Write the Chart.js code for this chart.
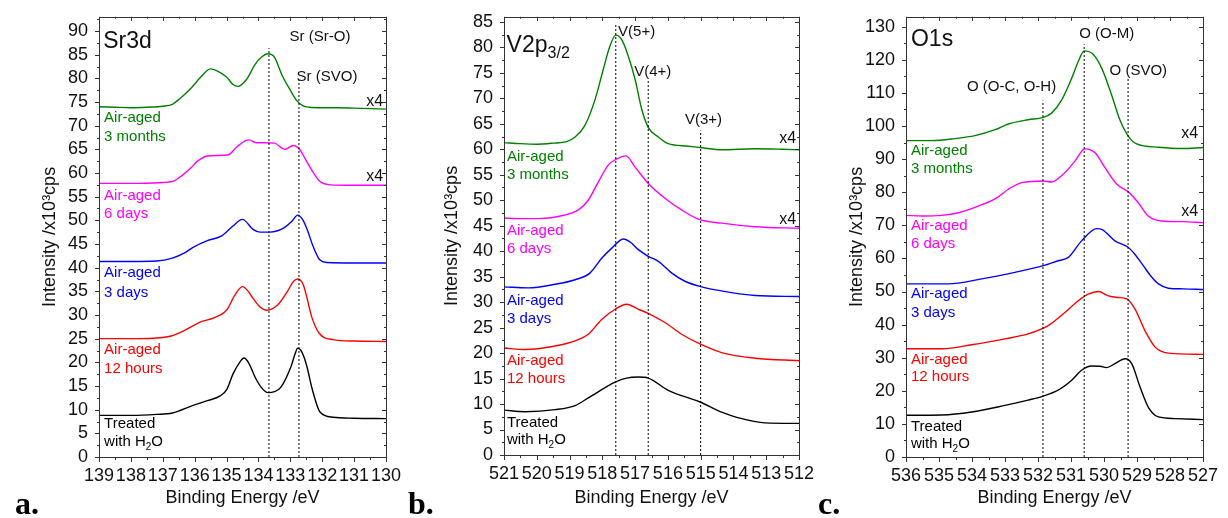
<!DOCTYPE html>
<html>
<head>
<meta charset="utf-8">
<script src="https://cdn.jsdelivr.net/npm/chart.js@4.4.1/dist/chart.umd.min.js"></script>
<style>
  body { margin: 0; background: #fff; }
  #page { position: relative; width: 1228px; height: 518px; overflow: hidden; background: #fff; }
  canvas { position: absolute; top: 0; }
  .tag { position: absolute; top: 487px; font: bold 32px "Liberation Serif", "Times New Roman", serif; line-height: 32px; color: #000; }
</style>
</head>
<body>
<div id="page">
  <canvas id="srChart" width="410" height="518" style="left:0"></canvas>
  <canvas id="vChart" width="420" height="518" style="left:400px"></canvas>
  <canvas id="oChart" width="416" height="518" style="left:812px"></canvas>
  <div class="tag" style="left:15px">a.</div>
  <div class="tag" style="left:408px">b.</div>
  <div class="tag" style="left:818px">c.</div>
</div>
<script>
// ---- Sr3d (panel a) ----
const srE_3m = [139, 138.5, 138, 137.5, 137, 136.7, 136.45, 136.25, 136.05, 135.83, 135.5, 135.3, 135.0, 134.8, 134.64, 134.37, 134.11, 133.9, 133.7, 133.5, 133.25, 133.0, 132.8, 132.6, 132.4, 132.0, 131.5, 131.0, 130.5, 130]
const srI_3m = [74.0, 73.9, 73.8, 73.9, 74.1, 74.5, 75.8, 77.0, 78.4, 80.1, 82.0, 81.6, 80.3, 78.7, 78.3, 79.8, 82.9, 84.5, 85.2, 84.5, 80.5, 77.5, 75.3, 74.2, 73.9, 73.8, 73.8, 73.7, 73.6, 73.5]
const srE_6d = [139, 138, 137, 136.7, 136.37, 136.1, 135.93, 135.6, 135.3, 134.95, 134.68, 134.3, 134.05, 133.8, 133.5, 133.17, 132.9, 132.7, 132.55, 132.4, 132.2, 132.07, 131.76, 131, 130]
const srI_6d = [57.8, 57.8, 58.0, 58.2, 59.6, 61.2, 62.4, 63.6, 63.7, 63.8, 65.5, 67.0, 66.4, 66.4, 66.3, 65.0, 65.8, 64.9, 63.2, 61.4, 59.3, 58.2, 57.5, 57.4, 57.4]
const srE_3d = [139, 138, 137.2, 136.7, 136.35, 136.05, 135.6, 135.15, 134.8, 134.5, 134.17, 133.95, 133.64, 133.4, 133.2, 132.95, 132.77, 132.6, 132.48, 132.28, 132.07, 131.85, 131, 130]
const srI_3d = [41.3, 41.3, 41.4, 42.0, 43.0, 44.3, 45.7, 46.7, 48.8, 50.2, 48.1, 47.5, 47.5, 47.8, 48.4, 49.8, 51.1, 50.0, 48.2, 44.4, 41.6, 41.1, 41.0, 41.0]
const srE_12h = [139, 138, 137.3, 136.77, 136.3, 135.83, 135.4, 134.99, 134.74, 134.5, 134.32, 134.17, 133.95, 133.74, 133.4, 133.1, 132.9, 132.77, 132.6, 132.5, 132.33, 132.1, 131.66, 131, 130]
const srI_12h = [25.0, 25.0, 25.1, 25.5, 26.8, 28.5, 29.4, 31.1, 34.2, 36.0, 35.0, 33.5, 31.7, 31.0, 32.1, 34.9, 37.1, 37.6, 36.5, 34.2, 29.6, 26.2, 24.8, 24.5, 24.4]
const srE_h2o = [139, 138, 137.2, 136.7, 136.05, 135.6, 135.2, 134.99, 134.8, 134.6, 134.45, 134.3, 134.1, 133.9, 133.7, 133.5, 133.3, 132.99, 132.85, 132.77, 132.65, 132.5, 132.3, 132.07, 131.66, 131, 130]
const srI_h2o = [8.8, 8.8, 9.0, 9.3, 10.9, 11.9, 12.9, 14.3, 17.5, 19.9, 20.9, 19.8, 16.8, 14.6, 13.6, 13.8, 14.7, 18.9, 21.8, 23.0, 22.3, 19.6, 14.0, 9.5, 8.4, 8.2, 8.1]
const srMarkE = [133.67, 132.73]
const srMarkTop = [86.4, 79.7]

// ---- V2p3/2 (panel b) ----
const vE_3m = [521, 520.5, 520, 519.5, 519.09, 518.83, 518.53, 518.22, 517.97, 517.77, 517.59, 517.41, 517.21, 517.0, 516.8, 516.6, 516.29, 515.99, 515.38, 514.97, 514.36, 513.34, 512.5, 512]
const vI_3m = [61.3, 61.1, 61.0, 61.2, 61.5, 62.4, 64.7, 69.8, 75.7, 80.2, 82.4, 81.5, 78.3, 73.7, 67.9, 64.3, 62.4, 61.1, 60.6, 60.3, 59.9, 60.1, 60.0, 59.9]
const vE_6d = [521, 520.5, 519.95, 519.14, 518.73, 518.43, 518.12, 517.82, 517.56, 517.28, 517.0, 516.6, 516.09, 515.58, 515.07, 514.36, 513.34, 512]
const vI_6d = [46.5, 46.4, 46.4, 47.1, 48.1, 50.0, 53.6, 56.9, 58.1, 58.7, 56.5, 53.3, 50.4, 48.1, 46.3, 45.5, 44.8, 44.5]
const vE_3d = [521, 520.26, 519.44, 518.83, 518.38, 518.02, 517.71, 517.36, 517.15, 516.9, 516.6, 516.29, 515.88, 515.48, 514.97, 514.36, 513.34, 512]
const vI_3d = [33.0, 32.8, 33.5, 34.4, 35.7, 38.6, 40.6, 42.4, 41.8, 40.3, 39.0, 38.0, 35.7, 34.1, 33.0, 32.2, 31.3, 31.1]
const vE_12h = [521, 520.36, 519.44, 518.83, 518.43, 518.02, 517.61, 517.26, 516.9, 516.6, 516.09, 515.58, 515.02, 514.36, 513.34, 512]
const vI_12h = [21.0, 20.7, 21.4, 22.4, 23.7, 26.6, 28.6, 29.6, 28.6, 27.8, 26.0, 23.7, 21.8, 20.1, 19.0, 18.5]
const vE_h2o = [521, 520.36, 519.44, 518.83, 518.38, 517.61, 517.26, 516.9, 516.6, 515.99, 515.02, 514.36, 513.85, 513.04, 512]
const vI_h2o = [8.8, 8.5, 8.9, 9.7, 11.4, 14.3, 15.1, 15.3, 15.1, 12.7, 10.4, 8.4, 7.3, 6.3, 6.2]
const vMarkE = [517.59, 516.6, 515.0]
const vMarkTop = [84.8, 73.4, 63.7]

// ---- O1s (panel c) ----
const oE_3m = [536, 535.22, 534.52, 533.91, 533.3, 532.9, 532.3, 531.84, 531.59, 531.28, 530.98, 530.78, 530.6, 530.33, 530.07, 529.77, 529.52, 529.26, 529.01, 528.35, 527.65, 527]
const oI_3m = [95.6, 95.6, 96.2, 97.1, 98.9, 100.6, 101.9, 102.6, 103.9, 107.9, 114.4, 119.5, 122.7, 121.7, 117.5, 109.4, 101.9, 96.9, 94.6, 93.6, 93.2, 93.5]
const oE_6d = [536, 535.52, 534.92, 534.41, 533.81, 533.25, 532.9, 532.49, 531.84, 531.59, 531.24, 530.88, 530.58, 530.27, 529.97, 529.61, 529.26, 528.96, 528.66, 528.25, 527.6, 527]
const oI_6d = [73.0, 72.8, 73.0, 73.8, 75.8, 78.3, 80.9, 82.9, 83.4, 83.1, 85.4, 89.4, 93.1, 91.9, 87.4, 82.4, 80.1, 76.8, 72.8, 71.3, 71.1, 70.8]
const oE_3d = [536, 534.72, 533.71, 532.7, 531.84, 531.39, 531.08, 530.68, 530.22, 530.07, 529.67, 529.26, 529.06, 528.81, 528.55, 528.35, 528.05, 527.6, 527]
const oI_3d = [52.3, 52.3, 53.8, 55.8, 57.8, 59.3, 60.3, 65.3, 69.0, 68.8, 65.3, 63.3, 61.2, 57.8, 54.3, 52.3, 51.0, 50.8, 50.6]
const oE_12h = [536, 534.92, 534.01, 533.0, 532.3, 531.69, 531.24, 530.78, 530.48, 530.17, 529.87, 529.57, 529.31, 529.06, 528.76, 528.45, 528.05, 527]
const oI_12h = [32.7, 32.7, 33.9, 35.7, 37.2, 39.7, 43.2, 47.2, 49.2, 50.0, 48.7, 48.2, 47.8, 44.7, 38.2, 33.2, 31.4, 31.0]
const oE_h2o = [536, 534.92, 534.01, 533.0, 532.3, 531.84, 531.39, 530.98, 530.68, 530.38, 530.12, 529.92, 529.67, 529.36, 529.16, 528.91, 528.66, 528.35, 527.85, 527]
const oI_h2o = [12.6, 12.7, 13.6, 15.6, 17.2, 18.4, 20.2, 23.2, 26.2, 27.5, 27.4, 27.0, 28.2, 29.7, 28.2, 21.2, 15.1, 12.1, 11.6, 11.3]
const oMarkE = [531.85, 530.6, 529.27]
const oMarkTop = [107.7, 124.7, 114.3]

const sampleNames = [['Air-aged', '3 months'], ['Air-aged', '6 days'], ['Air-aged', '3 days'], ['Air-aged', '12 hours'], ['Treated', 'with H_{2}O']]
const sampleColors = ['#008000', '#ff00ff', '#0000ff', '#ff0000', '#000000']

const FONT = '"Liberation Sans", Arial, sans-serif'
const AXIS = '#333'

// text with simple _{sub} support
function drawRich(ctx, str, x, y, size, align) {
  const parts = str.split(/(_\{[^}]*\})/).filter(Boolean).map(p =>
    p.startsWith('_{') ? { t: p.slice(2, -1), sub: true } : { t: p, sub: false })
  const subSize = Math.round(size * 0.68)
  let w = 0
  parts.forEach(p => {
    ctx.font = (p.sub ? subSize : size) + 'px ' + FONT
    p.w = ctx.measureText(p.t).width
    w += p.w
  })
  let cx = align === 'right' ? x - w : align === 'center' ? x - w / 2 : x
  ctx.textAlign = 'left'
  parts.forEach(p => {
    ctx.font = (p.sub ? subSize : size) + 'px ' + FONT
    ctx.fillText(p.t, cx, p.sub ? y + size * 0.32 : y)
    cx += p.w
  })
}

function frameTicks(c) {
  return {
    id: 'frameTicks',
    afterDraw(chart) {
      const { ctx, chartArea: a, scales: { x, y } } = chart
      ctx.save()
      ctx.strokeStyle = AXIS
      ctx.lineWidth = 1
      ctx.strokeRect(Math.round(a.left) + 0.5, Math.round(a.top) + 0.5, Math.round(a.right - a.left), Math.round(a.bottom - a.top))
      ctx.beginPath()
      const nx = Math.round((c.xMax - c.xMin) / 0.5)
      for (let k = 0; k <= nx; k++) {
        const px = Math.round(x.getPixelForValue(c.xMin + k * 0.5)) + 0.5
        const major = k % 2 === 0
        ctx.moveTo(px, a.bottom); ctx.lineTo(px, a.bottom + (major ? 5 : 3))
        ctx.moveTo(px, a.top); ctx.lineTo(px, a.top + (major ? 4 : 2))
      }
      const ny = Math.floor(c.yMax / c.yMinor)
      for (let k = 0; k <= ny; k++) {
        const py = Math.round(y.getPixelForValue(k * c.yMinor)) + 0.5
        const major = k % 2 === 0
        ctx.moveTo(a.left, py); ctx.lineTo(a.left - (major ? 4 : 2), py)
        ctx.moveTo(a.right, py); ctx.lineTo(a.right - (major ? 4 : 2), py)
      }
      ctx.stroke()
      ctx.restore()
    }
  }
}

function notes(items) {
  return {
    id: 'notes',
    afterDatasetsDraw(chart) {
      const { ctx, scales: { x, y } } = chart
      ctx.save()
      ctx.textBaseline = 'middle'
      items.forEach(n => {
        ctx.fillStyle = n.color || '#111'
        drawRich(ctx, n.text, x.getPixelForValue(n.x), y.getPixelForValue(n.y), n.size || 15, n.align || 'left')
      })
      ctx.restore()
    }
  }
}

function panel(id, c) {
  const datasets = []
  c.markE.forEach((e, i) => datasets.push({
    data: [{ x: e, y: 0 }, { x: e, y: c.markTop[i] }],
    borderColor: '#000', borderWidth: 1, borderDash: [2, 2], pointRadius: 0
  }))
  c.series.forEach(([es, is], i) => datasets.push({
    data: es.map((e, j) => ({ x: e, y: is[j] })),
    borderColor: sampleColors[i], borderWidth: 1.4, pointRadius: 0,
    cubicInterpolationMode: 'monotone'
  }))

  const items = c.notes.slice()
  sampleNames.forEach((lines, i) => lines.forEach((t, k) => items.push({
    text: t, x: c.labelX, y: c.labelY[i][k], color: sampleColors[i]
  })))

  new Chart(document.getElementById(id), {
    type: 'line',
    data: { datasets },
    options: {
      responsive: false,
      animation: false,
      events: [],
      layout: { padding: { top: c.top, right: c.right, left: 0, bottom: 0 } },
      plugins: { legend: { display: false }, tooltip: { enabled: false } },
      scales: {
        x: {
          type: 'linear', reverse: true, min: c.xMin, max: c.xMax,
          afterFit: s => { s.height = c.xHeight },
          border: { display: false },
          grid: { display: true, drawOnChartArea: false, drawTicks: true, tickLength: 5, color: 'rgba(0,0,0,0)' },
          ticks: { stepSize: 1, autoSkip: false, maxRotation: 0, padding: 3, color: '#111', font: { family: FONT, size: 18 }, callback: v => String(v) },
          title: { display: true, text: 'Binding Energy /eV', color: '#111', font: { family: FONT, size: 18 }, padding: { top: 0, bottom: 9 } }
        },
        y: {
          min: 0, max: c.yMax,
          afterFit: s => { s.width = c.yWidth },
          border: { display: false },
          grid: { display: true, drawOnChartArea: false, drawTicks: true, tickLength: 5, color: 'rgba(0,0,0,0)' },
          ticks: { stepSize: c.yStep, autoSkip: false, includeBounds: false, padding: 6, color: '#111', font: { family: FONT, size: 18 } },
          title: { display: true, text: 'Intensity /x10\u00b3cps', color: '#111', font: { family: FONT, size: 18 }, padding: { top: c.titlePad, bottom: 0 } }
        }
      }
    },
    plugins: [frameTicks(c), notes(items)]
  })
}

panel('srChart', {
  xMin: 130, xMax: 139, yMax: 93, yStep: 5, yMinor: 2.5,
  top: 12, right: 24, yWidth: 99, xHeight: 61, titlePad: 39,
  markE: srMarkE, markTop: srMarkTop,
  series: [[srE_3m, srI_3m], [srE_6d, srI_6d], [srE_3d, srI_3d], [srE_12h, srI_12h], [srE_h2o, srI_h2o]],
  labelX: 138.84,
  labelY: [[71.6, 67.7], [55.1, 51.4], [38.8, 34.7], [22.6, 18.6], [7.1, 3.1]],
  notes: [
    { text: 'Sr3d', x: 138.87, y: 87.7, size: 23 },
    { text: 'Sr (Sr-O)', x: 132.07, y: 88.7, align: 'center' },
    { text: 'Sr (SVO)', x: 131.85, y: 80.4, align: 'center' },
    { text: 'x4', x: 130.09, y: 75.1, align: 'right', size: 16 },
    { text: 'x4', x: 130.09, y: 59.3, align: 'right', size: 16 }
  ]
})

panel('vChart', {
  xMin: 512, xMax: 521, yMax: 86, yStep: 5, yMinor: 2.5,
  top: 14, right: 21, yWidth: 104, xHeight: 63, titlePad: 41,
  markE: vMarkE, markTop: vMarkTop,
  series: [[vE_3m, vI_3m], [vE_6d, vI_6d], [vE_3d, vI_3d], [vE_12h, vI_12h], [vE_h2o, vI_h2o]],
  labelX: 520.91,
  labelY: [[58.5, 55.0], [43.9, 40.4], [30.2, 26.7], [18.5, 15.0], [6.4, 2.9]],
  notes: [
    { text: 'V2p_{3/2}', x: 520.92, y: 80.3, size: 23 },
    { text: 'V(5+)', x: 517.52, y: 83.1 },
    { text: 'V(4+)', x: 517.03, y: 75.1 },
    { text: 'V(3+)', x: 515.48, y: 65.7 },
    { text: 'x4', x: 512.09, y: 62.0, align: 'right', size: 16 },
    { text: 'x4', x: 512.09, y: 46.2, align: 'right', size: 16 }
  ]
})

panel('oChart', {
  xMin: 527, xMax: 536, yMax: 133, yStep: 10, yMinor: 5,
  top: 15, right: 25, yWidth: 94, xHeight: 61, titlePad: 34,
  markE: oMarkE, markTop: oMarkTop,
  series: [[oE_3m, oI_3m], [oE_6d, oI_6d], [oE_3d, oI_3d], [oE_12h, oI_12h], [oE_h2o, oI_h2o]],
  labelX: 535.85,
  labelY: [[92.4, 87.0], [69.8, 64.4], [49.4, 43.6], [29.5, 24.1], [9.0, 3.9]],
  notes: [
    { text: 'O1s', x: 535.85, y: 126.1, size: 23 },
    { text: 'O (O-C, O-H)', x: 532.8, y: 111.9, align: 'center' },
    { text: 'O (O-M)', x: 529.92, y: 127.9, align: 'center' },
    { text: 'O (SVO)', x: 528.96, y: 116.8, align: 'center' },
    { text: 'x4', x: 527.15, y: 97.8, align: 'right', size: 16 },
    { text: 'x4', x: 527.15, y: 74.0, align: 'right', size: 16 }
  ]
})
</script>
</body>
</html>
